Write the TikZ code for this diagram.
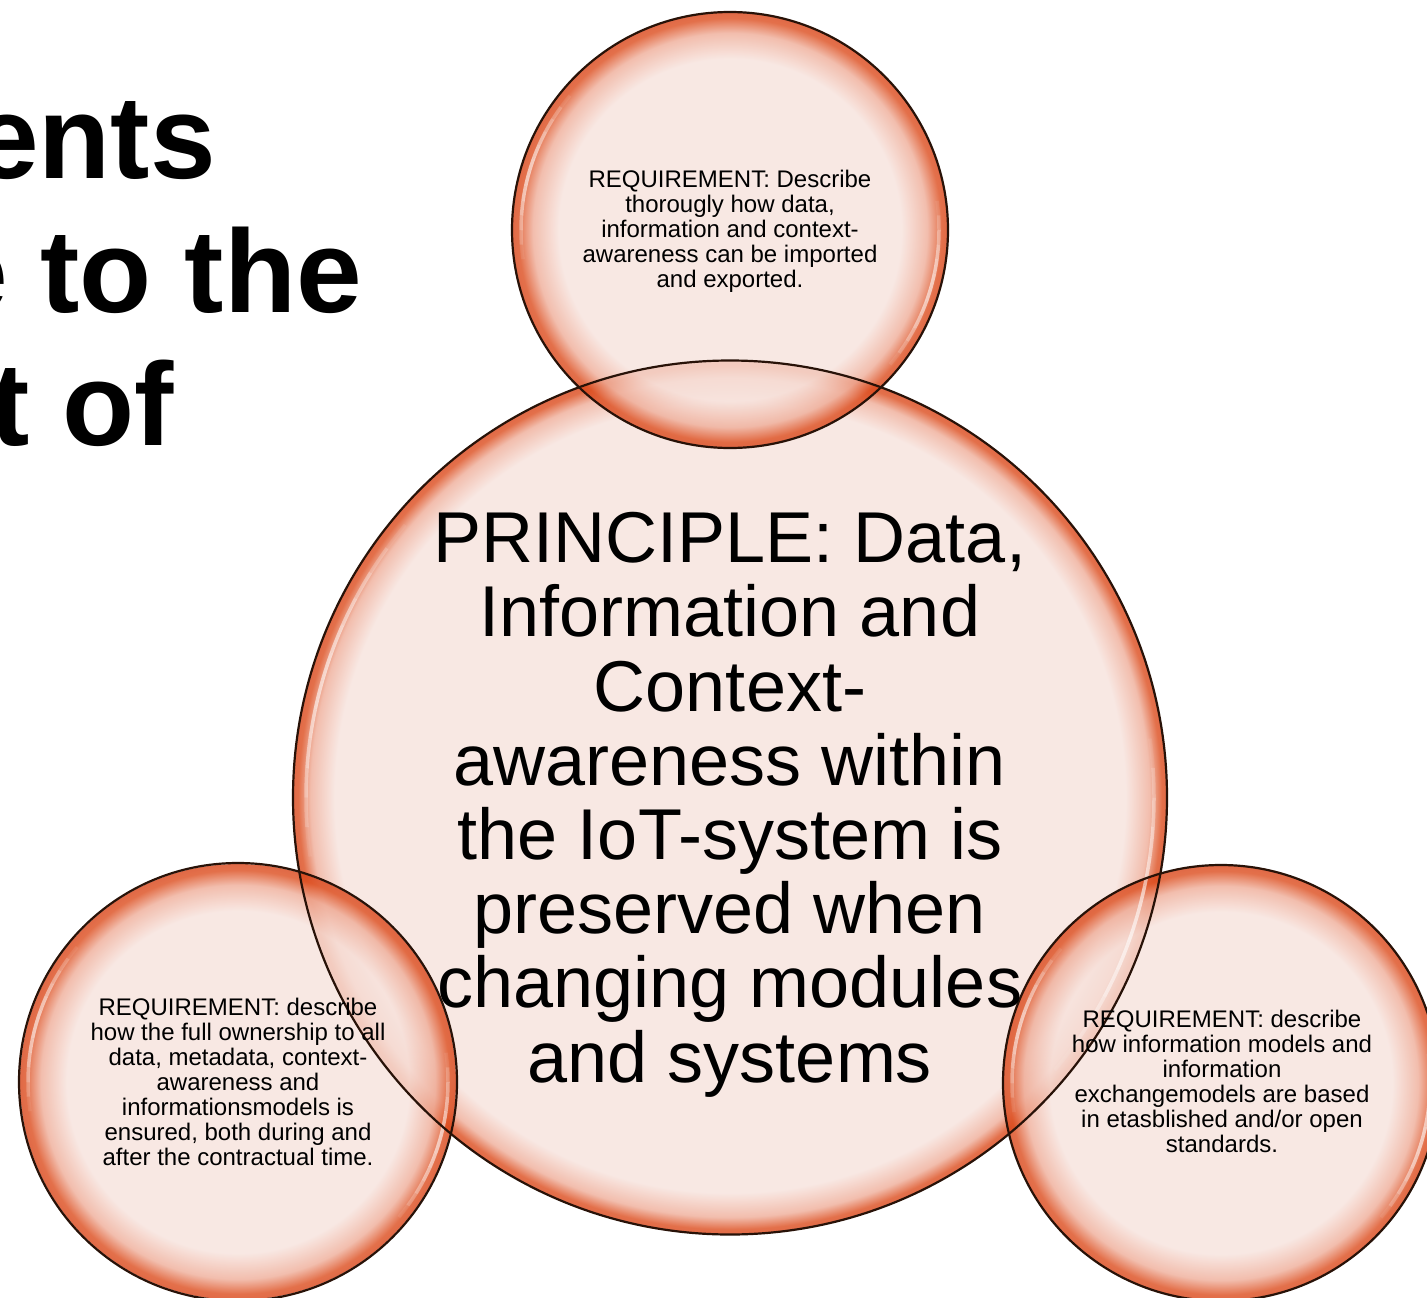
\documentclass[tikz,border=0pt]{standalone}
\usepackage{fontspec}
\setmainfont{Liberation Sans}
\definecolor{outl}{RGB}{40,18,8}
\pgfdeclareradialshading{smallrim}{\pgfpoint{0bp}{0bp}}{%
 rgb(0bp)=(0.969,0.890,0.867);
 rgb(19.6bp)=(0.969,0.890,0.867);
 rgb(22.6bp)=(0.937,0.680,0.600);
 rgb(24.3bp)=(0.865,0.300,0.115);
 rgb(25bp)=(0.850,0.270,0.100);
 rgb(50bp)=(0.850,0.270,0.100)}
\pgfdeclareradialshading{bigrim}{\pgfpoint{0bp}{0bp}}{%
 rgb(0bp)=(0.969,0.890,0.867);
 rgb(22.6bp)=(0.969,0.890,0.867);
 rgb(24.0bp)=(0.937,0.680,0.600);
 rgb(24.7bp)=(0.865,0.300,0.115);
 rgb(25bp)=(0.850,0.270,0.100);
 rgb(50bp)=(0.850,0.270,0.100)}
\begin{document}
\begin{tikzpicture}[x=1pt,y=1pt,
 bubble/.style={circle, inner sep=0pt, outer sep=0pt, minimum size=#1, shade, fill opacity=0.8},
 smallbubble/.style={bubble=436pt, shading=smallrim},
 bigbubble/.style={bubble=874pt, shading=bigrim},
 rimline/.style={draw=outl, line width=2.2pt},
 gloss/.style={draw=white, line width=3.5pt},
 req/.style={align=center, inner sep=0pt, anchor=base, font=\fontsize{24}{25}\selectfont},
 princ/.style={align=center, inner sep=0pt, anchor=base, font=\fontsize{72}{74.2}\selectfont},
 titleline/.style={anchor=base east, inner sep=0pt, font=\fontsize{118}{133}\selectfont\bfseries}]
\useasboundingbox (0,0) rectangle (1427,-1298);
\clip (0,0) rectangle (1427,-1298);
\fill[white] (0,0) rectangle (1427,-1298);
% title fragments
\node[titleline] (t1) at (216,-178) {ents};
\node[titleline] (t2) at (362,-312) {e to the};
\node[titleline] (t3) at (174,-445) {t of};
% bubbles
\node[bigbubble] (principle) at (730,-797.5) {};
\node[smallbubble] (reqtop) at (730,-230) {};
\node[smallbubble] (reqleft) at (238,-1082) {};
\node[smallbubble] (reqright) at (1221,-1083) {};
% gloss highlights
\foreach \n/\r in {principle/424, reqtop/209, reqleft/210, reqright/209}{
  \foreach \s in {140,320}{
    \foreach \i in {0,...,11}{
      \pgfmathsetmacro\a{\s+\i*4}
      \pgfmathsetmacro\op{0.6*sin(180*(\i+0.5)/12)}
      \draw[gloss, draw opacity=\op] ([shift={(\a:\r)}]\n.center) arc[start angle=\a, end angle=\a+4, radius=\r];
    }
  }
}
% outlines
\foreach \n/\r in {principle/437, reqtop/218, reqleft/219, reqright/218}
  \draw[rimline] (\n.center) circle[radius=\r];
% texts
\node[req] (txttop) at (730,-287) {REQUIREMENT: Describe\\thorougly how data,\\information and context-\\awareness can be imported\\and exported.};
\node[req] (txtleft) at (238,-1165) {REQUIREMENT: describe\\how the full ownership to all\\data, metadata, context-\\awareness and\\informationsmodels is\\ensured, both during and\\after the contractual time.};
\node[req] (txtright) at (1222,-1152) {REQUIREMENT: describe\\how information models and\\information\\exchangemodels are based\\in etasblished and/or open\\standards.};
\node[princ] (txtprinciple) at (730,-1082) {PRINCIPLE: Data,\\Information and\\Context-\\awareness within\\the IoT-system is\\preserved when\\changing modules\\and systems};
\end{tikzpicture}
\end{document}
